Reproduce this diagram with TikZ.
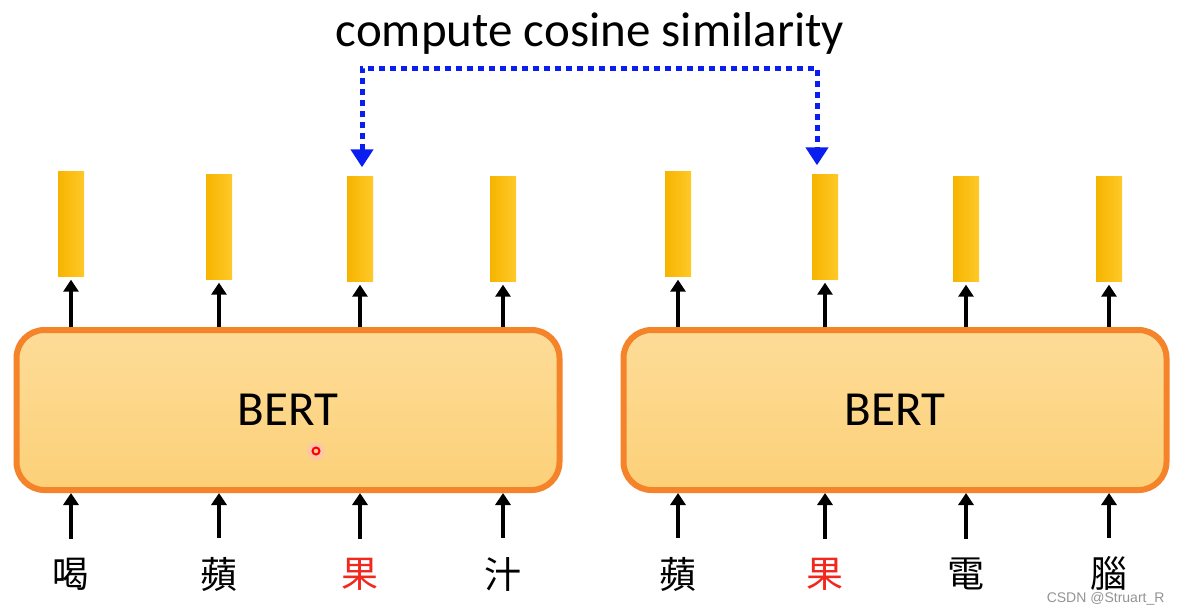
\documentclass[tikz,border=0pt]{standalone}
\usepackage{fontspec}
\setmainfont{Carlito}
\newfontfamily\cjk{Noto Sans CJK TC}
\newfontfamily\wm{Liberation Sans}
\usetikzlibrary{arrows.meta,calc}
\definecolor{borderor}{HTML}{F4832A}
\definecolor{filltop}{HTML}{FDDC98}
\definecolor{fillbot}{HTML}{FCD078}
\definecolor{barA}{HTML}{F6B400}
\definecolor{barB}{HTML}{FFC928}
\definecolor{cosblue}{HTML}{0A1EF0}
\definecolor{wordred}{HTML}{F0281E}
\tikzset{
  bertbox/.style={draw=borderor, line width=6pt, rounded corners=28pt, top color=filltop, bottom color=fillbot, minimum width=543pt, minimum height=160pt, font=\fontsize{49}{52}\selectfont},
  vecbar/.style={minimum width=26pt, minimum height=105pt, inner sep=0pt, left color=barA, right color=barB, draw=none},
  uparrow/.style={line width=3.6pt, -{Triangle[width=15pt,length=12pt]}},
  word/.style={font=\cjk\fontsize{37}{40}\selectfont, inner sep=0pt},
  cosline/.style={cosblue, line width=5pt, dash pattern=on 6pt off 5pt, {Triangle[width=22pt,length=18pt]}-{Triangle[width=22pt,length=18pt]}},
}
\begin{document}
\begin{tikzpicture}[x=1pt,y=-1pt]
\useasboundingbox (0,0) rectangle (1183,613);
% title
\node[font=\fontsize{49}{52}\selectfont] (title) at (590,33) {compute cosine similarity};
% BERT boxes
\node[bertbox] (boxL) at (288,410) {BERT};
\node[bertbox] (boxR) at (895,410) {BERT};
% vector bars
\node[vecbar] (L1) at (71,224) {};
\node[vecbar] (L2) at (219,227) {};
\node[vecbar] (L3) at (360,229) {};
\node[vecbar] (L4) at (503,229) {};
\node[vecbar] (R1) at (678,224) {};
\node[vecbar] (R2) at (825,227) {};
\node[vecbar] (R3) at (966,229) {};
\node[vecbar] (R4) at (1109,229) {};
% output arrows
\foreach \b in {L1,L2,L3,L4} \draw[uparrow] (\b |- boxL.north) -- ([yshift=-3pt]\b.south);
\foreach \b in {R1,R2,R3,R4} \draw[uparrow] (\b |- boxR.north) -- ([yshift=-3pt]\b.south);
% words
\node[word] (w1) at (71,574) {喝};
\node[word] (w2) at (219,574) {蘋};
\node[word, text=wordred] (w3) at (360,574) {果};
\node[word] (w4) at (503,574) {汁};
\node[word] (v1) at (678,574) {蘋};
\node[word, text=wordred] (v2) at (825,574) {果};
\node[word] (v3) at (966,574) {電};
\node[word] (v4) at (1109,574) {腦};
\foreach \w in {w1,w2,w3,w4} \draw[uparrow] ([yshift=19pt]\w.north) -- (\w |- boxL.south);
\foreach \w in {v1,v2,v3,v4} \draw[uparrow] ([yshift=19pt]\w.north) -- (\w |- boxR.south);
% cosine similarity connector
\coordinate (top) at (590,68);
\draw[cosline] ([yshift=9pt,xshift=2pt]L3.north) |- (top) -| ([yshift=9pt,xshift=-8pt]R2.north);
% laser pointer dot
\fill[red!25, opacity=0.6] (316,451) circle (9pt);
\draw[red, line width=2pt] (316,451) circle (3.5pt);
% watermark
\node[font=\wm\fontsize{14}{16}\selectfont, text=gray!85, anchor=east] (wmark) at (1168,599) {CSDN @Struart\_R};
\end{tikzpicture}
\end{document}
